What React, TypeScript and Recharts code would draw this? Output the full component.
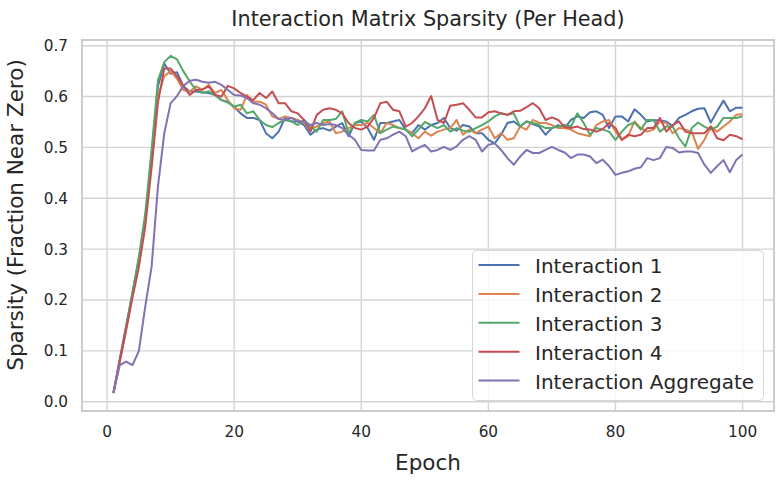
import { CartesianGrid, Legend, Line, LineChart, ReferenceArea, XAxis, YAxis } from 'recharts';

const epochs = Array.from({ length: 100 }, (_, i) => i + 1);

const interaction1 = [
  0.017, 0.084, 0.15, 0.215, 0.28, 0.36, 0.485, 0.62, 0.665, 0.645,
  0.648, 0.62, 0.61, 0.61, 0.608, 0.607, 0.603, 0.593, 0.59, 0.58,
  0.567, 0.558, 0.558, 0.554, 0.528, 0.518, 0.531, 0.558, 0.551, 0.551,
  0.544, 0.525, 0.535, 0.538, 0.533, 0.541, 0.548, 0.522, 0.548, 0.551,
  0.538, 0.515, 0.548, 0.548, 0.551, 0.554, 0.535, 0.528, 0.544, 0.535,
  0.544, 0.548, 0.558, 0.538, 0.533, 0.544, 0.541, 0.528, 0.528, 0.515,
  0.508, 0.525, 0.548, 0.551, 0.541, 0.551, 0.546, 0.541, 0.525, 0.538,
  0.544, 0.538, 0.554, 0.561, 0.558, 0.569, 0.571, 0.564, 0.538, 0.561,
  0.561, 0.551, 0.575, 0.564, 0.551, 0.554, 0.553, 0.551, 0.542, 0.558,
  0.564, 0.571, 0.576, 0.577, 0.549, 0.571, 0.592, 0.571, 0.578, 0.578,
];

const interaction2 = [
  0.017, 0.078, 0.14, 0.21, 0.275, 0.355, 0.47, 0.6, 0.64, 0.65,
  0.635, 0.613, 0.61, 0.62, 0.613, 0.623, 0.607, 0.613, 0.593, 0.577,
  0.574, 0.603, 0.59, 0.59, 0.584, 0.561, 0.556, 0.561, 0.558, 0.554,
  0.548, 0.538, 0.541, 0.548, 0.551, 0.528, 0.531, 0.538, 0.544, 0.544,
  0.548, 0.538, 0.528, 0.548, 0.544, 0.538, 0.535, 0.528, 0.518, 0.531,
  0.523, 0.531, 0.535, 0.538, 0.554, 0.525, 0.535, 0.528, 0.535, 0.541,
  0.518, 0.528, 0.515, 0.518, 0.541, 0.535, 0.554, 0.548, 0.548, 0.544,
  0.538, 0.538, 0.535, 0.528, 0.525, 0.522, 0.544, 0.551, 0.554, 0.531,
  0.515, 0.522, 0.551, 0.538, 0.531, 0.535, 0.551, 0.548, 0.528, 0.538,
  0.535, 0.531, 0.497, 0.515, 0.541, 0.531, 0.541, 0.551, 0.564, 0.565,
];

const interaction3 = [
  0.017, 0.08, 0.145, 0.215, 0.285, 0.37, 0.495, 0.632, 0.668, 0.68,
  0.673, 0.65, 0.63, 0.613, 0.608, 0.61, 0.603, 0.593, 0.588, 0.58,
  0.584, 0.567, 0.571, 0.554, 0.544, 0.54, 0.548, 0.554, 0.551, 0.544,
  0.554, 0.541, 0.531, 0.554, 0.554, 0.556, 0.571, 0.528, 0.548, 0.554,
  0.551, 0.564, 0.528, 0.535, 0.541, 0.538, 0.535, 0.522, 0.535, 0.55,
  0.544, 0.538, 0.544, 0.531, 0.538, 0.533, 0.531, 0.538, 0.544, 0.551,
  0.561, 0.567, 0.564, 0.567, 0.541, 0.551, 0.548, 0.544, 0.538, 0.538,
  0.541, 0.544, 0.541, 0.567, 0.548, 0.525, 0.538, 0.535, 0.531, 0.515,
  0.531, 0.544, 0.549, 0.535, 0.554, 0.554, 0.531, 0.541, 0.541, 0.518,
  0.502, 0.538, 0.549, 0.541, 0.535, 0.541, 0.558, 0.558, 0.558, 0.561,
];

const interaction4 = [
  0.017, 0.082, 0.143, 0.205, 0.265, 0.344, 0.46, 0.588, 0.655, 0.655,
  0.64, 0.621, 0.603, 0.613, 0.614, 0.62, 0.603, 0.6, 0.621, 0.616,
  0.607, 0.6, 0.593, 0.607, 0.597, 0.61, 0.587, 0.587, 0.571, 0.567,
  0.554, 0.531, 0.564, 0.574, 0.577, 0.574, 0.567, 0.548, 0.538, 0.535,
  0.541, 0.558, 0.587, 0.59, 0.574, 0.571, 0.541, 0.548, 0.561, 0.577,
  0.601, 0.554, 0.548, 0.582, 0.584, 0.587, 0.574, 0.559, 0.559, 0.569,
  0.571, 0.567, 0.564, 0.571, 0.572, 0.579, 0.587, 0.577, 0.554, 0.559,
  0.554, 0.54, 0.538, 0.541, 0.536, 0.535, 0.531, 0.536, 0.548, 0.538,
  0.515, 0.525, 0.522, 0.525, 0.538, 0.538, 0.558, 0.531, 0.544, 0.551,
  0.531, 0.528, 0.528, 0.528, 0.541, 0.518, 0.514, 0.525, 0.522, 0.516,
];

const aggregate = [
  0.018, 0.072, 0.079, 0.072, 0.1, 0.187, 0.265, 0.423, 0.528, 0.587,
  0.601, 0.621, 0.631, 0.633, 0.629, 0.627, 0.629, 0.623, 0.613, 0.603,
  0.602, 0.597, 0.587, 0.584, 0.577, 0.567, 0.556, 0.554, 0.558, 0.551,
  0.551, 0.544, 0.548, 0.544, 0.546, 0.544, 0.538, 0.525, 0.515, 0.495,
  0.494, 0.494, 0.515, 0.518, 0.525, 0.531, 0.522, 0.492, 0.499, 0.505,
  0.492, 0.495, 0.501, 0.495, 0.502, 0.515, 0.522, 0.515, 0.492, 0.505,
  0.508, 0.495, 0.479, 0.466, 0.482, 0.495, 0.489, 0.489, 0.495, 0.501,
  0.495, 0.49, 0.479, 0.486, 0.486, 0.482, 0.469, 0.476, 0.463, 0.446,
  0.45, 0.453, 0.458, 0.461, 0.479, 0.475, 0.479, 0.501, 0.499, 0.49,
  0.492, 0.492, 0.489, 0.466, 0.45, 0.463, 0.475, 0.451, 0.475, 0.486,
];

const xTicks = [0, 20, 40, 60, 80, 100];
const yTicks = [0, 0.1, 0.2, 0.3, 0.4, 0.5, 0.6, 0.7];

const series = [
  { key: 'i1', name: 'Interaction 1', color: '#4c72b0' },
  { key: 'i2', name: 'Interaction 2', color: '#dd8452' },
  { key: 'i3', name: 'Interaction 3', color: '#55a868' },
  { key: 'i4', name: 'Interaction 4', color: '#c44e52' },
  { key: 'agg', name: 'Interaction Aggregate', color: '#8172b3' },
];

const data = epochs.map((epoch, i) => ({
  epoch,
  i1: interaction1[i],
  i2: interaction2[i],
  i3: interaction3[i],
  i4: interaction4[i],
  agg: aggregate[i],
}));

const FONT = '"DejaVu Sans", sans-serif';
const INK = '#262626';
const X_DOMAIN: [number, number] = [-3.95, 104.95];
const Y_DOMAIN: [number, number] = [-0.0183, 0.7112];

function LegendBox({ payload }: any) {
  const items = payload || [];
  return (
    <svg width={292} height={151} style={{ display: 'block' }}>
      <rect x={0.5} y={0.5} width={291} height={150} rx={4} fill="rgba(255,255,255,0.8)" stroke="#d6d6d6" />
      {items.map((item: any, i: number) => {
        const cy = 15 + i * 28.9;
        return (
          <g key={item.value}>
            <line x1={6.5} x2={47.5} y1={cy} y2={cy} stroke={item.color} strokeWidth={2} />
            <text x={63} y={cy + 8} fontSize={20} fontFamily={FONT} fill={INK}>
              {item.value}
            </text>
          </g>
        );
      })}
    </svg>
  );
}

function YLabel() {
  return (
    <text
      x={23}
      y={215}
      transform="rotate(-90, 23, 215)"
      textAnchor="middle"
      fontSize={21.5}
      fontFamily={FONT}
      fill={INK}
    >
      Sparsity (Fraction Near Zero)
    </text>
  );
}

function XLabel() {
  return (
    <text x={428} y={470} textAnchor="middle" fontSize={21.5} fontFamily={FONT} fill={INK}>
      Epoch
    </text>
  );
}

export default function App() {
  return (
    <div style={{ position: 'absolute', left: 0, top: 0, width: 784, height: 483, background: '#fff' }}>
      <div
        style={{
          position: 'absolute',
          left: 0,
          top: 9.4,
          width: 856,
          textAlign: 'center',
          fontFamily: FONT,
          fontSize: 20.8,
          lineHeight: 1,
          color: INK,
          whiteSpace: 'nowrap',
        }}
      >
        Interaction Matrix Sparsity (Per Head)
      </div>
      <LineChart width={784} height={483} data={data} margin={{ top: 40, right: 10, bottom: 0, left: 0 }}>
        <CartesianGrid stroke="#d4d4d4" strokeWidth={1.4} />
        <XAxis
          dataKey="epoch"
          type="number"
          domain={X_DOMAIN}
          ticks={xTicks}
          allowDataOverflow
          height={72}
          axisLine={false}
          tickLine={false}
          tickSize={0}
          tickMargin={15}
          tick={{ fontSize: 15.3, fontFamily: FONT, fill: INK }}
          label={XLabel}
        />
        <YAxis
          type="number"
          domain={Y_DOMAIN}
          ticks={yTicks}
          allowDataOverflow
          width={82}
          axisLine={false}
          tickLine={false}
          tickSize={0}
          tickMargin={14}
          tickFormatter={(v: number) => v.toFixed(1)}
          tick={{ fontSize: 15.3, fontFamily: FONT, fill: INK }}
          label={YLabel}
        />
        {series.map((s) => (
          <Line
            key={s.key}
            type="linear"
            dataKey={s.key}
            name={s.name}
            stroke={s.color}
            strokeWidth={2}
            strokeLinejoin="round"
            dot={false}
            activeDot={false}
            isAnimationActive={false}
          />
        ))}
        <ReferenceArea
          x1={X_DOMAIN[0]}
          x2={X_DOMAIN[1]}
          y1={Y_DOMAIN[0]}
          y2={Y_DOMAIN[1]}
          fill="none"
          stroke="#cccccc"
          strokeWidth={2}
          ifOverflow="visible"
        />
        <Legend
          layout="horizontal"
          verticalAlign="middle"
          align="center"
          content={LegendBox}
          wrapperStyle={{ position: 'absolute', left: 472, top: 250, width: 292, height: 151 }}
        />
      </LineChart>
    </div>
  );
}
